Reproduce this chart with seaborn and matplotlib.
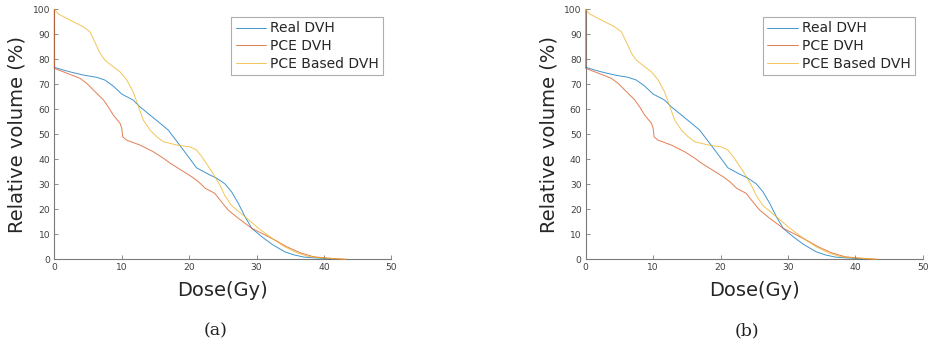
import matplotlib
matplotlib.use("Agg")
import matplotlib.pyplot as plt
import numpy as np
import pandas as pd
import seaborn as sns

# Dose-volume histogram curves (dose in Gy, relative volume in %)
dose_real = [0, 1.2, 2.3, 4.3, 6.3, 7.5, 8.75, 10.0, 11.7, 12.7, 14.2, 15.7, 16.9,
             18.4, 19.9, 21.1, 22.6, 24.1, 25.3, 26.3, 27.3, 28.3, 29.3, 30.8,
             32.3, 34.2, 35.5, 37.0, 38.5, 40.0, 41.0]
vol_real = [76.8, 75.8, 75.0, 73.7, 72.8, 71.7, 69.3, 66.1, 63.7, 61.0, 57.7, 54.4, 51.7,
            46.4, 41.0, 36.6, 34.4, 32.4, 30.2, 27.0, 22.4, 17.0, 12.4, 9.0,
            6.0, 3.0, 1.8, 0.9, 0.6, 0.4, 0.0]

dose_pce = [0, 0, 1.34, 3.8, 4.8, 5.8, 7.3, 8.0, 8.75, 9.75, 10.0, 10.15, 10.7,
            12.7, 14.7, 16.2, 17.2, 18.4, 20.4, 21.4, 22.4, 23.8, 24.8, 25.8,
            27.3, 29.3, 31.3, 33.2, 34.5, 36.5, 38.5, 40.5, 42.0, 43.2]
vol_pce = [100.0, 76.4, 75.0, 72.4, 70.4, 67.7, 63.7, 61.0, 57.7, 54.4, 52.5, 49.0, 47.7,
           45.7, 43.0, 40.4, 38.4, 36.4, 33.0, 31.0, 28.4, 26.4, 23.0, 19.7,
           16.4, 12.4, 9.7, 7.0, 5.0, 2.6, 1.0, 0.5, 0.2, 0.0]

dose_based = [0, 0.6, 2.33, 4.3, 5.3, 6.0, 6.8, 7.5, 8.75, 9.75, 10.75, 11.7, 12.5,
              13.2, 14.2, 15.2, 16.2, 18.2, 20.1, 21.1, 21.9, 23.4, 24.6, 25.3,
              26.3, 28.3, 30.3, 32.3, 34.2, 36.0, 37.9, 40.2, 42.0, 43.2]
vol_based = [100.0, 98.1, 95.7, 93.0, 91.0, 87.0, 82.4, 79.7, 77.0, 75.0, 71.7, 67.0, 61.0,
             55.7, 51.7, 49.0, 47.0, 45.7, 45.0, 43.7, 41.0, 35.0, 29.5, 25.5,
             21.5, 17.0, 12.4, 8.4, 5.0, 2.6, 1.0, 0.5, 0.2, 0.0]

series_names = ["Real DVH", "PCE DVH", "PCE Based DVH"]
series_colors = ["#0072BD", "#D95319", "#EDB120"]
panel_captions = ["(a)", "(b)"]
x_ticks = [0, 10, 20, 30, 40, 50]
y_ticks = [0, 10, 20, 30, 40, 50, 60, 70, 80, 90, 100]

frames = []
for name, d, v in zip(series_names,
                      [dose_real, dose_pce, dose_based],
                      [vol_real, vol_pce, vol_based]):
    frames.append(pd.DataFrame({"dose": d, "volume": v, "curve": name}))
df = pd.concat(frames, ignore_index=True)

sns.set_style("white")
plt.rcParams["font.family"] = ["DejaVu Sans"]

W, H = 930, 345
fig = plt.figure(figsize=(W / 100, H / 100), dpi=100)

ax_left_px = [54.3, 585.7]
ax_w_px, ax_top_px, ax_bot_px = 337.0, 9.3, 259.3
caption_x_px = [216, 747]
axis_gray = "#7a7a7a"
text_gray = "#404040"

for i, caption in enumerate(panel_captions):
    ax = fig.add_axes([ax_left_px[i] / W, (H - ax_bot_px) / H,
                       ax_w_px / W, (ax_bot_px - ax_top_px) / H])
    sns.lineplot(data=df, x="dose", y="volume", hue="curve", hue_order=series_names,
                 palette=series_colors, sort=False, estimator=None, units="curve",
                 linewidth=0.7, alpha=0.75, ax=ax)
    for line in ax.get_lines():
        line.set_clip_on(False)
        line.set_zorder(3)
    ax.set_xlim(0, 50)
    ax.set_ylim(0, 100)
    ax.set_xticks(x_ticks)
    ax.set_yticks(y_ticks)
    ax.tick_params(direction="in", length=3, width=0.6, colors=axis_gray,
                   labelcolor=text_gray, labelsize=6.6, pad=3,
                   bottom=True, left=True)
    for side in ["top", "right"]:
        ax.spines[side].set_visible(False)
    for side in ["left", "bottom"]:
        ax.spines[side].set_color(axis_gray)
        ax.spines[side].set_linewidth(0.8)
        ax.spines[side].set_zorder(2)
    ax.set_xlabel("Dose(Gy)", fontsize=14, color="#262626")
    ax.set_ylabel("Relative volume (%)", fontsize=14, color="#262626")
    ax.xaxis.set_label_coords(0.5, -(281 - ax_bot_px) / 250)
    ax.yaxis.set_label_coords(-(54.3 - 27) / ax_w_px, 0.5)
    ax.xaxis.label.set_verticalalignment("top")

    leg = ax.legend(loc="upper right", bbox_to_anchor=(1 - 8 / ax_w_px, 1 - 8 / 250),
                    borderaxespad=0, fontsize=10, frameon=True, fancybox=False,
                    handlelength=2.2, handletextpad=0.3, labelspacing=0.28,
                    borderpad=0.3)
    leg.get_frame().set_edgecolor("#9a9a9a")
    leg.get_frame().set_linewidth(0.8)
    for t in leg.get_texts():
        t.set_color("#262626")

    fig.text(caption_x_px[i] / W, (H - 331) / H, caption, ha="center", va="center",
             fontsize=12.5, family=["DejaVu Serif"], color="#222222")

fig.savefig("out.png", dpi=100, facecolor="white")
